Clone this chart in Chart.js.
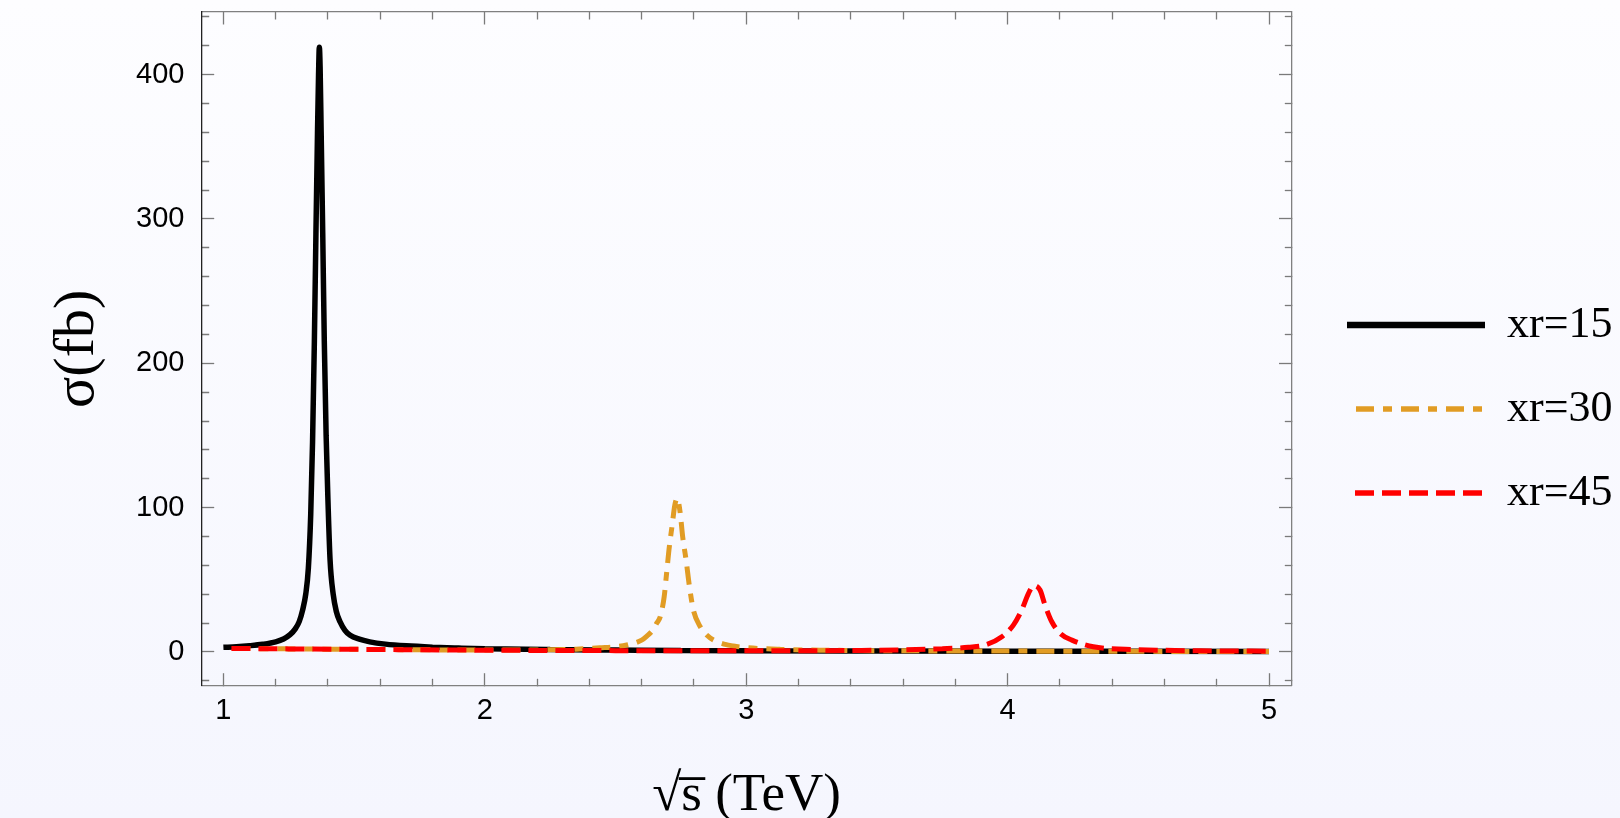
<!DOCTYPE html>
<html><head><meta charset="utf-8">
<script src="https://cdn.jsdelivr.net/npm/chart.js@4.4.1/dist/chart.umd.min.js"></script>
<style>
html,body{margin:0;padding:0;width:1620px;height:818px;overflow:hidden;background:linear-gradient(#fdfdff,#f5f6fe);}
#wrap{position:relative;width:1620px;height:818px;}
</style></head><body>
<div id="wrap"><canvas id="c"></canvas></div>
<script>
// ---- data ----
const seriesLabels = ['xr=15', 'xr=30', 'xr=45'];

const xr15X = [1.00,1.05,1.10,1.15,1.20,1.23,1.255,1.275,1.29,1.303,1.315,1.325,1.334,1.341,1.348,1.354,1.360,1.364,1.367,1.370,1.374,1.380,1.386,1.393,1.400,1.408,1.420,1.432,1.446,1.465,1.485,1.52,1.56,1.62,1.70,1.80,1.90,2.00,2.25,2.50,2.75,3.00,3.50,4.00,4.50,5.00];
const xr15Y = [3.2,3.6,4.3,5.3,7.0,9.0,12,16,21,29,40,58,95,145,215,290,360,400,419,405,360,290,215,150,105,64,40,28,21,15,11.5,8.8,7.0,5.4,4.2,3.3,2.7,2.2,1.6,1.3,1.0,0.8,0.6,0.5,0.4,0.3];

const xr30X = [1.00,1.25,1.50,1.75,2.00,2.20,2.35,2.44,2.50,2.543,2.60,2.62,2.643,2.658,2.671,2.686,2.696,2.706,2.716,2.727,2.736,2.747,2.757,2.770,2.783,2.798,2.824,2.85,2.875,2.92,2.951,3.00,3.13,3.30,3.60,4.00,4.50,5.00];
const xr30Y = [2.5,2.1,1.8,1.5,1.3,1.4,1.9,2.9,3.6,4.8,8.2,11,15.2,20,24.4,38,55.6,73,86.8,101.8,106.5,97,79.8,63.7,45.2,29,17.5,11.5,8.2,5.2,4.1,3.0,1.8,1.2,0.8,0.6,0.4,0.3];

const xr45X = [1.00,1.25,1.50,2.00,2.50,3.00,3.40,3.60,3.75,3.85,3.914,3.978,4.022,4.054,4.080,4.100,4.124,4.143,4.169,4.201,4.246,4.328,4.45,4.60,4.80,5.00];
const xr45Y = [2.5,2.1,1.8,1.2,0.9,0.8,1.0,1.4,2.2,3.2,4.8,10.5,18.6,29,40.6,46,42.9,32.5,20.9,12.9,8.2,3.6,1.8,1.1,0.7,0.5];

const xTickLabels = [1, 2, 3, 4, 5];
const yTickLabels = [0, 100, 200, 300, 400];

// ---- chart ----
const pts = (xs, ys) => xs.map((x, i) => ({x: x, y: ys[i]}));
const isIn = (v, list) => list.some(t => Math.abs(t - v) < 1e-6);

const MAJOR = 12.5, MINOR = 7.5;
function gridCfg(list, fromBorder) {
  return {
    display: true,
    drawOnChartArea: false,
    drawTicks: true,
    tickLength: -MAJOR,
    tickColor: '#7a7a7a',
    tickWidth: 1.3,
    tickBorderDash: ctx => isIn(ctx.tick.value, list) ? [] :
      (fromBorder ? [MINOR, 100] : [0, MAJOR - MINOR, MINOR, 100])
  };
}
function noPad(s) { s.paddingTop = 0; s.paddingBottom = 0; s.paddingLeft = 0; s.paddingRight = 0; }

const X_MIN = 0.917, X_MAX = 5.086, Y_MIN = -23.4, Y_MAX = 443.4;
const AREA_LEFT = 201.7, AREA_TOP = 12, AREA_BOTTOM = 685.7, AREA_RIGHT = 1291.5;
const RIGHT_GAP = 15.5;

new Chart(document.getElementById('c'), {
  type: 'line',
  data: {
    datasets: [
      {label: seriesLabels[0], data: pts(xr15X, xr15Y), borderColor: '#000000', backgroundColor: '#000000',
       borderWidth: 5.5, legendLineWidth: 6.5, order: 3},
      {label: seriesLabels[1], data: pts(xr30X, xr30Y), borderColor: 'rgb(225,156,36)', backgroundColor: 'rgb(225,156,36)',
       borderWidth: 5, legendLineWidth: 5.3, borderDash: [9, 9, 18, 9], borderDashOffset: 9, order: 2},
      {label: seriesLabels[2], data: pts(xr45X, xr45Y), borderColor: '#ff0000', backgroundColor: '#ff0000',
       borderWidth: 5, legendLineWidth: 5.3, borderDash: [19, 8], borderDashOffset: 19, order: 1}
    ].map(d => Object.assign(d, {pointRadius: 0, pointHoverRadius: 0, fill: false,
       cubicInterpolationMode: 'monotone', borderJoinStyle: 'bevel', borderCapStyle: 'butt'}))
  },
  options: {
    responsive: true,
    maintainAspectRatio: false,
    animation: false,
    events: [],
    devicePixelRatio: 1,
    layout: {padding: 0},
    plugins: {
      tooltip: {enabled: false},
      legend: {
        position: 'right',
        maxWidth: 1620 - AREA_RIGHT - RIGHT_GAP,
        labels: {
          usePointStyle: true,
          pointStyle: 'line',
          pointStyleWidth: 138,
          padding: 40,
          color: '#000',
          font: {family: 'Liberation Serif', size: 44},
          sort: (a, b) => a.datasetIndex - b.datasetIndex,
          generateLabels: chart => {
            const items = Chart.defaults.plugins.legend.labels.generateLabels(chart);
            items.forEach(it => {
              const ds = chart.data.datasets[it.datasetIndex];
              it.lineDash = ds.borderDash || [];
              it.lineDashOffset = ds.borderDashOffset || 0;
              it.lineWidth = ds.legendLineWidth;
              it.strokeStyle = ds.borderColor;
              it.lineCap = 'butt';
            });
            return items;
          }
        }
      }
    },
    scales: {
      x: {
        type: 'linear', position: 'bottom', min: X_MIN, max: X_MAX,
        afterFit: s => { s.height = 818 - AREA_BOTTOM; noPad(s); },
        grid: gridCfg(xTickLabels, true),
        border: {display: true, color: '#808080', width: 1.3},
        ticks: {stepSize: 0.2, includeBounds: false, autoSkip: false, maxRotation: 0, minRotation: 0,
          padding: 20.5, color: '#000', font: {family: 'Liberation Sans', size: 29},
          callback: v => isIn(v, xTickLabels) ? String(Math.round(v)) : ''},
        title: {display: true, text: '\u221As\u0305 (TeV)', color: '#000',
          font: {family: 'Liberation Serif', size: 53, lineHeight: 1}, padding: {top: 0, bottom: -4.5}}
      },
      x2: {
        type: 'linear', position: 'top', min: X_MIN, max: X_MAX,
        afterFit: s => { s.height = AREA_TOP; noPad(s); },
        grid: gridCfg(xTickLabels, false),
        border: {display: true, color: '#808080', width: 1.3},
        ticks: {display: false, stepSize: 0.2, includeBounds: false, autoSkip: false}
      },
      y: {
        type: 'linear', position: 'left', min: Y_MIN, max: Y_MAX,
        afterFit: s => { s.width = AREA_LEFT; noPad(s); },
        grid: gridCfg(yTickLabels, false),
        border: {display: true, color: '#222', width: 1.3},
        ticks: {stepSize: 20, includeBounds: false, autoSkip: false,
          padding: 29.7, color: '#000', font: {family: 'Liberation Sans', size: 29},
          callback: v => isIn(v, yTickLabels) ? String(Math.round(v)) : ''},
        title: {display: true, text: '\u03C3(fb)', color: '#000',
          font: {family: 'Liberation Serif', size: 58, lineHeight: 1}, padding: {top: 49, bottom: 0}}
      },
      y2: {
        type: 'linear', position: 'right', min: Y_MIN, max: Y_MAX,
        afterFit: s => { s.width = RIGHT_GAP; noPad(s); },
        grid: gridCfg(yTickLabels, true),
        border: {display: true, color: '#808080', width: 1.3},
        ticks: {display: false, stepSize: 20, includeBounds: false, autoSkip: false}
      }
    }
  }
});
</script>
</body></html>
